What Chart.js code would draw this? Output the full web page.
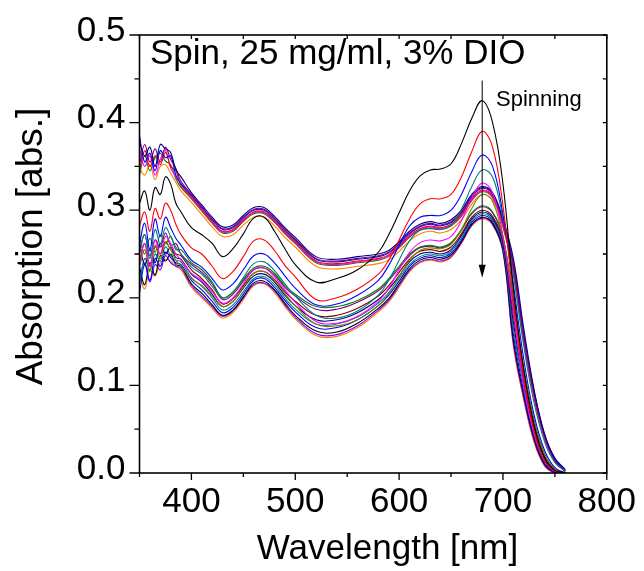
<!DOCTYPE html>
<html>
<head>
<meta charset="utf-8">
<script src="https://cdn.jsdelivr.net/npm/chart.js@4.4.1/dist/chart.umd.min.js"></script>
<style>
  html, body { margin: 0; padding: 0; background: #fff; }
  canvas { display: block; }
</style>
</head>
<body>
<canvas id="c" width="644" height="571"></canvas>
<script>
// ---------------- data ----------------
const wavelengths = [350,355,360,365,370,375,380,385,390,400,410,420,430,440,450,460,470,480,490,500,520,540,560,580,590,600,610,620,630,640,650,660,670,680,690,700,710,720,730,740,750,760];

const xTickLabels = [400, 500, 600, 700, 800];
const yTickLabels = [0.0, 0.1, 0.2, 0.3, 0.4, 0.5];

// individual early spectra (top to bottom at 680 nm)
const black = [0.308,0.322,0.300,0.326,0.318,0.338,0.330,0.308,0.298, 0.280,0.272,0.262,0.247,0.256,0.273,0.291,0.292,0.276,0.256,0.238, 0.218,0.222,0.232,0.252, 0.272,0.297,0.322,0.339,0.346,0.347,0.353,0.376,0.405,0.425,0.400,0.330,0.210,0.118,0.055,0.018,0.003,0.0];
const red = [0.282,0.298,0.276,0.302,0.290,0.308,0.300,0.284,0.272, 0.257,0.250,0.236,0.222,0.230,0.247,0.265,0.266,0.254,0.237,0.224, 0.198,0.200,0.210,0.227, 0.243,0.266,0.290,0.307,0.313,0.313,0.318,0.338,0.367,0.390,0.372,0.305,0.200,0.110,0.048,0.014,0.002,0.0];
const blue = [0.262,0.285,0.255,0.290,0.270,0.292,0.280,0.268,0.260, 0.243,0.235,0.222,0.209,0.216,0.232,0.248,0.250,0.240,0.225,0.211, 0.192,0.193,0.203,0.220, 0.237,0.260,0.282,0.292,0.294,0.294,0.300,0.318,0.344,0.363,0.350,0.295,0.215,0.130,0.066,0.026,0.006,0.0];
const teal = [0.250,0.272,0.245,0.278,0.262,0.280,0.270,0.258,0.250, 0.235,0.227,0.213,0.200,0.207,0.223,0.239,0.241,0.231,0.216,0.202, 0.180,0.177,0.185,0.203, 0.220,0.243,0.265,0.277,0.279,0.278,0.283,0.301,0.327,0.346,0.338,0.290,0.225,0.145,0.080,0.036,0.012,0.002];
const magenta = [0.240,0.262,0.236,0.266,0.250,0.270,0.262,0.250,0.243, 0.228,0.220,0.207,0.194,0.200,0.216,0.232,0.234,0.224,0.209,0.195, 0.173,0.171,0.179,0.196, 0.211,0.232,0.252,0.263,0.266,0.265,0.270,0.288,0.314,0.331,0.320,0.270,0.185,0.100,0.045,0.014,0.002,0.0];
const olive = [0.235,0.255,0.230,0.260,0.245,0.262,0.255,0.243,0.236, 0.222,0.214,0.202,0.190,0.196,0.212,0.228,0.230,0.220,0.205,0.191, 0.170,0.168,0.175,0.191, 0.205,0.224,0.243,0.254,0.257,0.256,0.261,0.278,0.302,0.318,0.310,0.268,0.200,0.118,0.058,0.021,0.004,0.0];

// upper bundle
const u1 = [0.378,0.362,0.372,0.350,0.375,0.370,0.366,0.346,0.338, 0.320,0.306,0.292,0.281,0.283,0.294,0.303,0.303,0.293,0.280,0.269, 0.247,0.244,0.247,0.250, 0.254,0.264,0.276,0.284,0.287,0.285,0.289,0.300,0.318,0.327,0.320,0.290,0.245,0.165,0.095,0.045,0.017,0.004];
const u2 = [0.352,0.375,0.355,0.370,0.355,0.372,0.358,0.348,0.333, 0.318,0.304,0.290,0.279,0.281,0.292,0.301,0.301,0.291,0.278,0.267, 0.245,0.242,0.245,0.248, 0.252,0.262,0.274,0.282,0.285,0.283,0.287,0.298,0.316,0.326,0.319,0.288,0.240,0.160,0.093,0.044,0.016,0.003];
const u3 = [0.385,0.355,0.365,0.345,0.368,0.360,0.362,0.340,0.330, 0.317,0.303,0.289,0.278,0.280,0.291,0.300,0.300,0.290,0.277,0.266, 0.244,0.241,0.244,0.247, 0.251,0.261,0.273,0.281,0.284,0.282,0.286,0.297,0.315,0.325,0.318,0.287,0.238,0.158,0.092,0.043,0.015,0.003];
const u4 = [0.345,0.368,0.350,0.362,0.352,0.366,0.350,0.345,0.328, 0.315,0.301,0.287,0.276,0.278,0.289,0.298,0.298,0.288,0.275,0.264, 0.242,0.239,0.242,0.245, 0.249,0.259,0.271,0.279,0.282,0.280,0.284,0.295,0.313,0.323,0.316,0.284,0.233,0.153,0.088,0.041,0.014,0.002];
const u5 = [0.370,0.350,0.362,0.340,0.358,0.368,0.348,0.338,0.330, 0.314,0.300,0.286,0.275,0.277,0.288,0.297,0.297,0.287,0.274,0.263, 0.241,0.238,0.241,0.244, 0.248,0.258,0.270,0.278,0.281,0.279,0.283,0.294,0.312,0.322,0.315,0.283,0.231,0.151,0.087,0.040,0.013,0.002];
const u6 = [0.340,0.362,0.345,0.360,0.365,0.356,0.352,0.336,0.326, 0.313,0.299,0.285,0.274,0.276,0.287,0.296,0.296,0.286,0.273,0.262, 0.240,0.237,0.240,0.243, 0.247,0.257,0.269,0.277,0.280,0.278,0.282,0.293,0.311,0.321,0.314,0.282,0.230,0.150,0.086,0.040,0.013,0.002];
const u7 = [0.348,0.340,0.352,0.335,0.350,0.352,0.342,0.332,0.322, 0.309,0.295,0.281,0.270,0.272,0.283,0.292,0.292,0.282,0.269,0.258, 0.236,0.233,0.236,0.239, 0.243,0.253,0.265,0.273,0.276,0.274,0.278,0.289,0.307,0.318,0.311,0.280,0.230,0.150,0.086,0.040,0.013,0.002];

// lower bundle
const l1 = [0.270,0.250,0.268,0.252,0.272,0.262,0.270,0.255,0.255, 0.240,0.232,0.218,0.200,0.206,0.221,0.234,0.236,0.228,0.214,0.204, 0.190,0.190,0.197,0.210, 0.222,0.236,0.250,0.258,0.260,0.258,0.263,0.278,0.297,0.305,0.298,0.270,0.195,0.120,0.060,0.022,0.004,0.0];
const l2 = [0.255,0.272,0.248,0.266,0.258,0.274,0.260,0.262,0.250, 0.238,0.229,0.216,0.198,0.204,0.219,0.232,0.234,0.226,0.212,0.202, 0.187,0.187,0.195,0.208, 0.220,0.234,0.248,0.257,0.259,0.257,0.262,0.277,0.296,0.304,0.297,0.269,0.191,0.117,0.058,0.021,0.004,0.0];
const l3 = [0.240,0.262,0.236,0.258,0.250,0.264,0.255,0.250,0.248, 0.232,0.222,0.209,0.193,0.199,0.214,0.228,0.230,0.221,0.207,0.196, 0.180,0.180,0.188,0.202, 0.214,0.229,0.244,0.253,0.255,0.253,0.258,0.273,0.292,0.300,0.293,0.265,0.180,0.109,0.052,0.018,0.003,0.0];
const l4 = [0.262,0.238,0.255,0.240,0.262,0.250,0.258,0.246,0.244, 0.227,0.218,0.204,0.190,0.196,0.211,0.225,0.227,0.218,0.203,0.191, 0.175,0.175,0.183,0.198, 0.210,0.225,0.241,0.250,0.252,0.250,0.255,0.271,0.290,0.298,0.291,0.262,0.172,0.103,0.049,0.016,0.002,0.0];
const l5 = [0.215,0.245,0.232,0.250,0.242,0.258,0.248,0.243,0.241, 0.223,0.213,0.200,0.186,0.192,0.207,0.222,0.224,0.215,0.200,0.187, 0.170,0.170,0.178,0.194, 0.206,0.222,0.238,0.247,0.250,0.248,0.253,0.268,0.288,0.296,0.289,0.259,0.165,0.098,0.045,0.014,0.002,0.0];
const l6 = [0.205,0.238,0.220,0.245,0.236,0.252,0.246,0.240,0.238, 0.220,0.209,0.196,0.183,0.189,0.204,0.220,0.222,0.212,0.197,0.184, 0.166,0.166,0.175,0.191, 0.203,0.219,0.236,0.245,0.248,0.246,0.251,0.266,0.286,0.294,0.287,0.257,0.159,0.093,0.042,0.012,0.001,0.0];
const l7 = [0.235,0.215,0.240,0.226,0.248,0.242,0.250,0.238,0.236, 0.216,0.205,0.192,0.180,0.186,0.201,0.217,0.219,0.209,0.194,0.180, 0.162,0.161,0.171,0.188, 0.199,0.216,0.233,0.243,0.246,0.244,0.249,0.264,0.284,0.292,0.285,0.255,0.152,0.089,0.039,0.010,0.001,0.0];
const l8 = [0.222,0.240,0.218,0.238,0.232,0.248,0.240,0.236,0.234, 0.214,0.202,0.190,0.179,0.185,0.200,0.215,0.217,0.208,0.192,0.178, 0.159,0.158,0.168,0.186, 0.197,0.214,0.231,0.241,0.244,0.242,0.247,0.263,0.283,0.291,0.284,0.253,0.148,0.086,0.037,0.009,0.0,0.0];
const l9 = [0.228,0.210,0.232,0.225,0.240,0.244,0.242,0.236,0.232, 0.212,0.200,0.188,0.177,0.183,0.198,0.214,0.216,0.206,0.190,0.176, 0.157,0.156,0.166,0.184, 0.195,0.212,0.230,0.240,0.243,0.241,0.246,0.262,0.282,0.290,0.283,0.252,0.145,0.083,0.035,0.008,0.0,0.0];

// annotation values
const arrowWavelength = 680;
const arrowFrom = 0.448;
const arrowTo = 0.223;

// ---------------- styling ----------------
const seriesList = [
  [black, '#000000'], [red, '#FF0000'], [blue, '#0000FF'], [teal, '#008080'],
  [magenta, '#FF00FF'], [olive, '#808000'],
  [u1, '#000080'], [u2, '#800080'], [u3, '#0000FF'], [u4, '#FF0000'],
  [u5, '#FF00FF'], [u6, '#008000'], [u7, '#FF8000'],
  [l1, '#008000'], [l2, '#800080'], [l3, '#800000'], [l4, '#000080'],
  [l5, '#008080'], [l6, '#0000FF'], [l7, '#000000'], [l8, '#8000FF'], [l9, '#FF8000']
];

const FONT = '"Liberation Sans", Arial, Helvetica, sans-serif';

const datasets = seriesList.map(([arr, color]) => ({
  data: wavelengths.map((w, i) => ({ x: w, y: arr[i] })),
  borderColor: color,
  borderWidth: 1.1,
  pointRadius: 0,
  fill: false,
  tension: 0.4
}));

const decorPlugin = {
  id: 'decor',
  afterDatasetsDraw(chart) {
    const { ctx, chartArea: a, scales: { x, y } } = chart;
    ctx.save();
    // arrow
    const ax = x.getPixelForValue(arrowWavelength);
    const ay0 = y.getPixelForValue(arrowFrom);
    const ay1 = y.getPixelForValue(arrowTo);
    ctx.strokeStyle = '#000';
    ctx.fillStyle = '#000';
    ctx.lineWidth = 1;
    ctx.beginPath();
    ctx.moveTo(ax, ay0);
    ctx.lineTo(ax, ay1 - 10);
    ctx.stroke();
    ctx.beginPath();
    ctx.moveTo(ax, ay1);
    ctx.lineTo(ax - 3.5, ay1 - 13);
    ctx.lineTo(ax + 3.5, ay1 - 13);
    ctx.closePath();
    ctx.fill();

    // frame
    ctx.lineWidth = 1.6;
    ctx.strokeRect(a.left, a.top, a.right - a.left, a.bottom - a.top);
    // ticks
    ctx.lineWidth = 1.3;
    ctx.beginPath();
    for (let v = 350; v <= 800; v += 50) {
      const px = x.getPixelForValue(v);
      const major = v % 100 === 0;
      ctx.moveTo(px, a.bottom); ctx.lineTo(px, a.bottom + (major ? 7 : 4));
      ctx.moveTo(px, a.top); ctx.lineTo(px, a.top + 4);
    }
    for (let i = 0; i <= 10; i++) {
      const py = y.getPixelForValue(i * 0.05);
      const major = i % 2 === 0;
      ctx.moveTo(a.left, py); ctx.lineTo(a.left - (major ? 10 : 5), py);
      ctx.moveTo(a.right, py); ctx.lineTo(a.right - 4, py);
    }
    ctx.stroke();

    // texts
    ctx.fillStyle = '#000';
    ctx.textBaseline = 'alphabetic';
    ctx.textAlign = 'left';
    ctx.font = '35px ' + FONT;
    ctx.fillText('Spin, 25 mg/ml, 3% DIO', 150, 64);
    ctx.font = '22px ' + FONT;
    ctx.fillText('Spinning', 496, 106);

    ctx.textAlign = 'center';
    ctx.font = '35px ' + FONT;
    ctx.fillText('Wavelength [nm]', 387.5, 559);

    ctx.save();
    ctx.translate(42, 246.5);
    ctx.rotate(-Math.PI / 2);
    ctx.font = '37px ' + FONT;
    ctx.fillText('Absorption [abs.]', 0, 0);
    ctx.restore();

    ctx.restore();
  }
};

new Chart(document.getElementById('c'), {
  type: 'line',
  data: { datasets },
  plugins: [decorPlugin],
  options: {
    responsive: false,
    animation: false,
    devicePixelRatio: 1,
    layout: { padding: { top: 32.7, right: 35.5, left: 0, bottom: 0 } },
    plugins: { legend: { display: false }, tooltip: { enabled: false }, title: { display: false } },
    scales: {
      x: {
        type: 'linear', min: 350, max: 800,
        grid: { display: false, drawTicks: false, tickLength: 0 },
        border: { display: false },
        afterBuildTicks: s => { s.ticks = xTickLabels.map(v => ({ value: v })); },
        afterFit: s => { s.height = 98; },
        ticks: { color: '#000', font: { family: FONT, size: 35 }, padding: 8, maxRotation: 0,
                 callback: v => String(v) }
      },
      y: {
        type: 'linear', min: 0, max: 0.5,
        grid: { display: false, drawTicks: false, tickLength: 0 },
        border: { display: false },
        afterBuildTicks: s => { s.ticks = yTickLabels.map(v => ({ value: v })); },
        afterFit: s => { s.width = 139.5; },
        ticks: { color: '#000', font: { family: FONT, size: 35 }, padding: 14, labelOffset: -4,
                 callback: v => Number(v).toFixed(1) }
      }
    }
  }
});
</script>
</body>
</html>
